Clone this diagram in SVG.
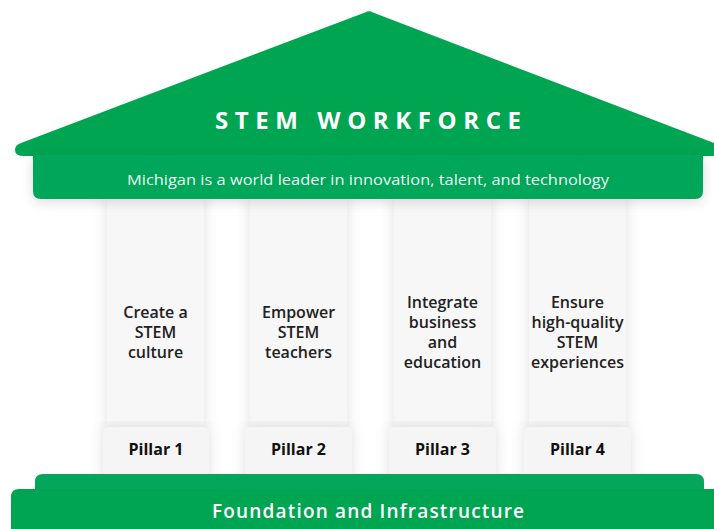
<svg xmlns="http://www.w3.org/2000/svg" width="714" height="529" viewBox="0 0 714 529">
<defs>
<filter id="sh" x="-30%" y="-10%" width="160%" height="120%">
<feDropShadow dx="0" dy="0" stdDeviation="7" flood-color="#000" flood-opacity="0.12"/>
</filter>
<filter id="sh2" x="-10%" y="-30%" width="120%" height="160%">
<feDropShadow dx="0" dy="3" stdDeviation="6" flood-color="#000" flood-opacity="0.14"/>
</filter>
</defs>
<style>
.green{fill:#00a551}
.band{fill:#03a65a}
.col{fill:#f7f7f7}
.base{fill:#f5f5f5}
.ct{font-family:"Open Sans","Liberation Sans",sans-serif;font-size:16px;font-weight:600;fill:#222;text-anchor:middle}
.pl{font-family:"Open Sans","Liberation Sans",sans-serif;font-size:16px;font-weight:700;fill:#111;text-anchor:middle}
.wt{font-family:"Open Sans","Liberation Sans",sans-serif;fill:#fff;text-anchor:middle}
</style>
<rect width="714" height="529" fill="#fff"/>
<g id="connectors"/>
<g id="pillar1">
<rect class="col" x="107" y="195" width="97" height="235" filter="url(#sh)"/>
<rect class="base" x="103" y="427" width="106" height="60" rx="6" filter="url(#sh)"/>
<text class="ct" x="155.5" y="318">Create a</text>
<text class="ct" x="155.5" y="338">STEM</text>
<text class="ct" x="155.5" y="358">culture</text>
<text class="pl" x="156" y="455">Pillar 1</text>
</g>
<g id="pillar2">
<rect class="col" x="250" y="195" width="97" height="235" filter="url(#sh)"/>
<rect class="base" x="245" y="427" width="107" height="60" rx="6" filter="url(#sh)"/>
<text class="ct" x="298.5" y="318">Empower</text>
<text class="ct" x="298.5" y="338">STEM</text>
<text class="ct" x="298.5" y="358">teachers</text>
<text class="pl" x="298.5" y="455">Pillar 2</text>
</g>
<g id="pillar3">
<rect class="col" x="394" y="195" width="97" height="235" filter="url(#sh)"/>
<rect class="base" x="389" y="427" width="107" height="60" rx="6" filter="url(#sh)"/>
<text class="ct" x="442.5" y="308">Integrate</text>
<text class="ct" x="442.5" y="328">business</text>
<text class="ct" x="442.5" y="348">and</text>
<text class="ct" x="442.5" y="368">education</text>
<text class="pl" x="442.5" y="455">Pillar 3</text>
</g>
<g id="pillar4">
<rect class="col" x="529" y="195" width="97" height="235" filter="url(#sh)"/>
<rect class="base" x="524" y="427" width="107" height="60" rx="6" filter="url(#sh)"/>
<text class="ct" x="577.5" y="308">Ensure</text>
<text class="ct" x="577.5" y="328">high-quality</text>
<text class="ct" x="577.5" y="348">STEM</text>
<text class="ct" x="577.5" y="368">experiences</text>
<text class="pl" x="577.5" y="455">Pillar 4</text>
</g>
<g id="roof">
<path class="green" d="M365,12.5 Q369,10 373,12.5 L714,143 L714,156 L24,156 Q15,156 15,150 Q15,145 21,143 Z"/>
<text class="wt" x="368" y="129" font-size="24" font-weight="700" textLength="306" lengthAdjust="spacing">STEM WORKFORCE</text>
</g>
<g id="frieze">
<path class="band" d="M33,155 L703,155 L703,191 Q703,199 695,199 L41,199 Q33,199 33,191 Z" filter="url(#sh2)"/>
<text class="wt" x="368" y="185" font-size="15" fill-opacity="0.95" textLength="482" lengthAdjust="spacingAndGlyphs">Michigan is a world leader in innovation, talent, and technology</text>
</g>
<g id="foundation">
<path class="band" d="M35,529 L35,482 Q35,474 43,474 L696,474 Q704,474 704,482 L704,529 Z"/>
<path class="green" d="M11,529 L11,497 Q11,489 19,489 L714,489 L714,529 Z"/>
<text class="wt" x="368" y="518" font-size="19" font-weight="600" textLength="312" lengthAdjust="spacing">Foundation and Infrastructure</text>
</g>
</svg>
